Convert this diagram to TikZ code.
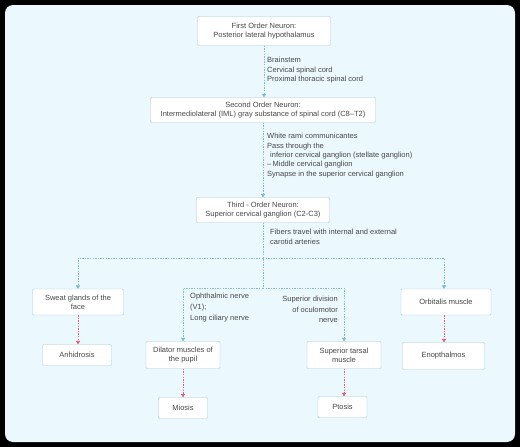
\documentclass[tikz,border=0pt]{standalone}
\usepackage{fontspec}
\setmainfont{Liberation Sans}
\usetikzlibrary{positioning,arrows.meta}
\definecolor{panelBlue}{HTML}{EBF8FD}
\definecolor{lineBlue}{HTML}{7DB9D9}
\definecolor{lineRed}{HTML}{E0606E}
\definecolor{boxEdge}{HTML}{A6C8D8}
\definecolor{textGray}{HTML}{474747}
\tikzset{
    neuronBox/.style={draw=boxEdge, fill=white, rounded corners=1pt, align=center,
        font=\fontsize{7.5}{9}\selectfont, text=textGray, inner sep=1pt},
    blueLink/.style={lineBlue, line width=0.6pt, dash pattern=on 1.4pt off 1.2pt},
    redLink/.style={lineRed, line width=0.6pt, dash pattern=on 1.4pt off 1.2pt},
    tipArrow/.style={-{Triangle[width=4.2pt,length=3.4pt]}},
    noteText/.style={align=left, anchor=north west, inner sep=0pt, text=textGray,
        font=\fontsize{7.5}{9.4}\selectfont}
}
\begin{document}
\begin{tikzpicture}[x=1pt,y=-1pt]
    \fill[black] (0,0) rectangle (520,447);
    \fill[panelBlue, rounded corners=8pt] (5,5) rectangle (515,442);
    % neurons
    \node[neuronBox, minimum width=133pt, minimum height=29pt] (first) at (264,31)
        {First Order Neuron:\\Posterior lateral hypothalamus};
    \node[neuronBox, minimum width=225pt, minimum height=25pt] (second) at (263,110)
        {Second Order Neuron:\\Intermediolateral (IML) gray substance of spinal cord (C8--T2)};
    \node[neuronBox, minimum width=133pt, minimum height=25pt] (third) at (263,210)
        {Third - Order Neuron:\\Superior cervical ganglion (C2-C3)};
    % targets
    \node[neuronBox, minimum width=91pt, minimum height=26pt] (sweat) at (78,302)
        {Sweat glands of the\\face};
    \node[neuronBox, minimum width=90pt, minimum height=26pt] (orbitalis) at (446,302)
        {Orbitalis muscle};
    \node[neuronBox, minimum width=69pt, minimum height=21pt] (anhidrosis) at (77,355)
        {Anhidrosis};
    \node[neuronBox, minimum width=74pt, minimum height=27pt] (dilator) at (183,355)
        {Dilator muscles of\\the pupil};
    \node[neuronBox, minimum width=74pt, minimum height=27pt] (tarsal) at (344,355)
        {Superior tarsal\\muscle};
    \node[neuronBox, minimum width=82pt, minimum height=27pt] (enoph) at (443.5,356)
        {Enopthalmos};
    \node[neuronBox, minimum width=49pt, minimum height=21pt] (miosis) at (183,408)
        {Miosis};
    \node[neuronBox, minimum width=49pt, minimum height=21pt] (ptosis) at (342.5,407)
        {Ptosis};
    % fork points
    \coordinate (forkTop) at (263,258);
    \coordinate (forkLow) at (263,288);
    % blue links
    \draw[blueLink, tipArrow] (first) -- (first |- second.north);
    \draw[blueLink, tipArrow] (second) -- (second |- third.north);
    \draw[blueLink] (third) -- (forkLow);
    \draw[blueLink, tipArrow] (forkTop) -| (sweat);
    \draw[blueLink, tipArrow] (forkTop) -| ([xshift=-2pt]orbitalis.north);
    \draw[blueLink, tipArrow] (forkLow) -| (dilator);
    \draw[blueLink, tipArrow] (forkLow) -| (tarsal);
    % red links
    \draw[redLink, tipArrow] (sweat) -- (sweat |- anhidrosis.north);
    \draw[redLink, tipArrow] ([xshift=-2pt]orbitalis.south) -- ([xshift=-2pt]orbitalis.south |- enoph.north);
    \draw[redLink, tipArrow] (dilator) -- (miosis);
    \draw[redLink, tipArrow] (tarsal) -- (tarsal |- ptosis.north);
    % notes
    \node[noteText] (noteA) at (267,57)
        {Brainstem\\Cervical spinal cord\\Proximal thoracic spinal cord};
    \node[noteText] (noteB) at (267,133)
        {White rami communicantes\\Pass through the\\\hspace{3pt}inferior cervical ganglion (stellate ganglion)\\--\,Middle cervical ganglion\\Synapse in the superior cervical ganglion};
    \node[noteText] (noteC) at (270,229)
        {Fibers travel with internal and external\\carotid arteries};
    \node[noteText, font=\fontsize{7.5}{10.8}\selectfont] (noteD) at (190,293)
        {Ophthalmic nerve\\(V1);\\Long ciliary nerve};
    \node[noteText, align=right, anchor=north east, font=\fontsize{7.5}{10.5}\selectfont] (noteE) at (338,296)
        {Superior division\\of oculomotor\\nerve};
\end{tikzpicture}
\end{document}
